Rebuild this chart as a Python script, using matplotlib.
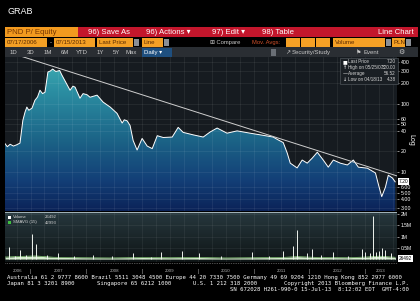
import matplotlib
matplotlib.use("Agg")
import matplotlib.pyplot as plt
import matplotlib.dates as mdates
import matplotlib.transforms as mtrans
from matplotlib.patches import Rectangle
from matplotlib.colors import LinearSegmentedColormap
from matplotlib.ticker import FixedLocator, NullLocator, NullFormatter
import numpy as np
import pandas as pd

plt.rcParams["font.family"] = ["Liberation Sans", "DejaVu Sans"]

W, H = 420, 301

# ── data ────────────────────────────────────────────────────────
price_dates = [
    "2006-07-17", "2006-08-01", "2006-08-20", "2006-09-10", "2006-10-01",
    "2006-10-23", "2006-11-11", "2006-11-25", "2006-12-07", "2006-12-20",
    "2007-01-10", "2007-01-29", "2007-02-15", "2007-03-03", "2007-03-20",
    "2007-04-05", "2007-04-24", "2007-05-10", "2007-05-25", "2007-06-15",
    "2007-07-10", "2007-07-25", "2007-08-14", "2007-09-16", "2007-10-05",
    "2007-10-19", "2007-11-20", "2007-12-10", "2008-01-05", "2008-01-25",
    "2008-03-11", "2008-04-20", "2008-06-05", "2008-07-20", "2008-08-22",
    "2008-09-05", "2008-09-24", "2008-10-13", "2008-11-02", "2008-11-28",
    "2008-12-31", "2009-02-02", "2009-03-07", "2009-04-09", "2009-05-18",
    "2009-07-16", "2009-08-24", "2009-09-26", "2009-11-30", "2010-02-04",
    "2010-03-21", "2010-05-06", "2010-07-10", "2010-09-14", "2010-12-08",
    "2011-02-12", "2011-05-08", "2011-06-10", "2011-07-13", "2011-08-08",
    "2011-08-28", "2011-10-12", "2011-11-14", "2011-12-17", "2012-01-19",
    "2012-02-21", "2012-03-31", "2012-05-03", "2012-06-05", "2012-07-21",
    "2012-09-05", "2012-10-14", "2012-11-16", "2013-01-14", "2013-03-08",
    "2013-03-28", "2013-04-18", "2013-05-12", "2013-05-31", "2013-06-27",
    "2013-07-15",
]
price_values = [
    26.0, 23.5, 25.5, 24.0, 25.0,
    26.5, 57.0, 75.0, 89.0, 80.0,
    86.0, 112.0, 125.0, 157.0, 140.0,
    147.0, 290.0, 300.0, 320.0, 295.0,
    305.0, 260.0, 215.0, 157.0, 180.0,
    174.0, 120.0, 140.0, 135.0, 124.0,
    133.0, 105.0, 89.0, 72.0, 52.0,
    58.0, 56.0, 48.0, 29.0, 21.0,
    31.0, 24.0, 22.0, 34.0, 32.0,
    32.5, 45.0, 38.0, 35.0, 32.5,
    38.5, 44.0, 37.0, 40.0, 37.0,
    35.0, 32.5, 29.5, 27.0, 19.0,
    13.5, 11.5, 15.0, 13.5, 16.0,
    19.5, 15.0, 11.8, 15.0, 13.5,
    12.7, 15.0, 11.8, 11.4, 9.7,
    6.5, 4.38, 6.0, 9.0, 8.2,
    7.20,
]

trend_dates = ["2006-10-08", "2013-08-20"]
trend_values = [511.0, 8.45]

vol_dates = [
    "2006-08-12", "2006-09-20", "2006-10-26", "2006-12-01", "2007-01-12",
    "2007-02-08", "2007-04-20", "2007-07-01", "2007-10-10", "2008-02-12",
    "2008-06-15", "2008-11-02", "2009-03-01", "2009-05-01", "2009-09-20",
    "2010-01-05", "2010-06-01", "2010-12-23", "2011-04-10", "2011-07-13",
    "2011-09-15", "2011-10-12", "2011-12-17", "2012-01-19", "2012-03-15",
    "2012-06-05", "2012-09-10", "2012-12-10", "2012-12-30", "2013-02-01",
    "2013-02-18", "2013-03-10", "2013-03-28", "2013-04-18", "2013-05-12",
    "2013-06-15", "2013-07-15",
]
vol_values = [
    0.53e6, 0.15e6, 0.40e6, 0.20e6, 1.10e6,
    0.66e6, 0.18e6, 0.27e6, 0.12e6, 0.20e6,
    0.12e6, 0.25e6, 0.10e6, 0.30e6, 0.35e6,
    0.25e6, 0.12e6, 0.30e6, 0.15e6, 0.35e6,
    0.60e6, 1.30e6, 0.25e6, 0.45e6, 0.20e6,
    0.30e6, 0.15e6, 0.45e6, 0.30e6, 0.25e6,
    1.90e6, 0.30e6, 0.35e6, 0.50e6, 0.40e6,
    0.25e6, 0.03e6,
]

smavg_dates = [
    "2006-07-17", "2006-11-01", "2007-02-01", "2007-06-01", "2007-12-01",
    "2008-06-01", "2009-01-01", "2009-07-01", "2010-01-01", "2010-07-01",
    "2011-01-01", "2011-07-01", "2011-10-15", "2012-03-01", "2012-09-01",
    "2013-01-01", "2013-04-01", "2013-07-15",
]
smavg_values = [
    0.09e6, 0.12e6, 0.14e6, 0.08e6, 0.06e6,
    0.05e6, 0.07e6, 0.06e6, 0.07e6, 0.05e6,
    0.06e6, 0.07e6, 0.11e6, 0.07e6, 0.06e6,
    0.09e6, 0.13e6, 0.08e6,
]

price_ticks = [3, 4, 5, 6, 10, 20, 40, 50, 60, 100, 200, 300, 400]
price_tick_labels = ["3.00", "4.00", "5.00", "6.00", "10", "20", "40",
                     "50", "60", "100", "200", "300", "400"]
vol_ticks = [0.5e6, 1.0e6, 1.5e6, 2.0e6]
vol_tick_labels = ["0.5M", "1M", "1.5M", "2M"]
years = [2006, 2007, 2008, 2009, 2010, 2011, 2012, 2013]

start = pd.Timestamp("2006-07-17")
end = pd.Timestamp("2013-07-15")

pd_dates = pd.to_datetime(price_dates)
vd_dates = pd.to_datetime(vol_dates)
sm_dates = pd.to_datetime(smavg_dates)


def frac(x0, y0, x1, y1):
    """pixel box -> figure fraction [l, b, w, h]"""
    return [x0 / W, 1 - y1 / H, (x1 - x0) / W, (y1 - y0) / H]


def box(ax, x0, y0, x1, y1, fc, ec="none", lw=0):
    ax.add_patch(Rectangle((x0, y0), x1 - x0, y1 - y0,
                           facecolor=fc, edgecolor=ec, linewidth=lw))


fig = plt.figure(figsize=(W / 100, H / 100), dpi=100, facecolor="black")

# ── background overlay (header / footer) ────────────────────────
bg = fig.add_axes([0, 0, 1, 1], zorder=0)
bg.set_xlim(0, W)
bg.set_ylim(H, 0)
bg.axis("off")

bg.text(8, 11, "GRAB", color="white", fontsize=6.5, va="center")

# row 1
box(bg, 5, 27, 78, 37, "#f29a1f")
bg.text(7, 32.3, "PND P/ Equity", color="#7a3800", fontsize=5.6, va="center")
box(bg, 78, 27, 418, 37, "#c3162c")
for x, s in [(88, "96) Save As"), (146, "96) Actions \u25be"),
             (212, "97) Edit \u25be"), (262, "98) Table")]:
    bg.text(x, 32.3, s, color="white", fontsize=5.6, va="center")
bg.text(414, 32.3, "Line Chart", color="white", fontsize=5.6,
        va="center", ha="right")

# row 2
orange = "#f4a025"
for x0, x1, s in [(5, 47, "07/17/2006"), (54, 95, "07/15/2013"),
                  (97, 133, "Last Price"), (142, 163, "Line"),
                  (333, 385, "Volume"), (392, 405, "PLN")]:
    box(bg, x0, 38, x1, 46.5, orange)
    bg.text(x0 + 2, 42.3, s, color="#5a2a00", fontsize=4.4, va="center")
for x0, x1 in [(286, 300), (301, 315), (316, 330)]:
    box(bg, x0, 38, x1, 46.5, orange)
for x0 in [134, 164, 386, 406]:
    box(bg, x0, 38.5, x0 + 5, 46, "#8a8f96")
bg.text(50, 42.3, "-", color="white", fontsize=4.4, va="center")
bg.text(210, 42.3, "\u229e Compare", color="#c8c8c8", fontsize=4.2, va="center")
bg.text(252, 42.3, "Mov. Avgs:", color="#d0502a", fontsize=4.2, va="center")

# row 3
box(bg, 5, 47, 418, 57, "#2a2e33")
for x, s in [(10, "1D"), (27, "3D"), (44, "1M"), (61, "6M"), (76, "YTD"),
             (97, "1Y"), (113, "5Y"), (126, "Max")]:
    bg.text(x, 52.2, s, color="#c8c8c8", fontsize=4.3, va="center")
box(bg, 142, 47.5, 172, 56.5, "#1e4f7f")
bg.text(144, 52.2, "Daily \u25be", color="white", fontsize=4.3, va="center")
box(bg, 271, 48.5, 276, 55.5, "#6a6f76")
bg.text(285, 52.2, "\u2197", color="#c8c8c8", fontsize=4.3, va="center",
        family=["DejaVu Sans"])
bg.text(292, 52.2, "Security/Study", color="#c8c8c8", fontsize=4.3,
        va="center")
bg.text(356, 52.2, "\u2691", color="#c8c8c8", fontsize=4.3, va="center",
        family=["DejaVu Sans"])
bg.text(363, 52.2, "Event", color="#c8c8c8", fontsize=4.3, va="center")
bg.text(398, 52.2, "\u2699", color="#c8c8c8", fontsize=5, va="center",
        family=["DejaVu Sans"])

# footer
mono = ["DejaVu Sans Mono"]
fkw = dict(color="white", fontsize=4.1, va="baseline", family=mono)
bg.text(7, 279, "Australia 61 2 9777 8600 Brazil 5511 3048 4500 Europe 44 20 "
        "7330 7500 Germany 49 69 9204 1210 Hong Kong 852 2977 6000", **fkw)
bg.text(7, 285, "Japan 81 3 3201 8900", **fkw)
bg.text(97, 285, "Singapore 65 6212 1000", **fkw)
bg.text(193, 285, "U.S. 1 212 318 2000", **fkw)
bg.text(409, 285, "Copyright 2013 Bloomberg Finance L.P.", ha="right", **fkw)
bg.text(409, 291, "SN 672028 H261-990-0 15-Jul-13  8:12:02 EDT  GMT-4:00",
        ha="right", **fkw)
bg.plot([5, 397], [263, 263], color="#9a9a9a", lw=0.5, ls=(0, (1, 1.5)))

# ── price panel ─────────────────────────────────────────────────
ax = fig.add_axes(frac(5, 57, 397, 211), zorder=1)
ax.set_facecolor("#161b20")
ax.set_yscale("log")
ax.set_autoscale_on(False)
ax.set_xlim(start, pd.Timestamp("2013-07-27"))
ax.set_ylim(2.7, 480)

fill_cmap = LinearSegmentedColormap.from_list(
    "bbg", [(0, "#3fb0b4"), (0.22, "#2b8ea2"), (0.55, "#1b6286"),
            (0.8, "#133f77"), (1, "#0b2358")])
grad = np.linspace(0, 1, 256).reshape(-1, 1)
im = ax.imshow(grad, cmap=fill_cmap, aspect="auto", extent=[0, 1, 0, 1],
               transform=ax.transAxes, origin="upper", zorder=1)
poly = ax.fill_between(pd_dates, price_values, 1e-3, facecolor="none",
                       edgecolor="none")
im.set_clip_path(poly.get_paths()[0], ax.transData)

ax.plot(pd_dates, price_values, color="white", lw=0.7, zorder=4)
ax.plot(pd.to_datetime(trend_dates), trend_values, color="#cfcfcf", lw=0.7,
        zorder=5)

ax.yaxis.tick_right()
ax.yaxis.set_major_locator(FixedLocator(price_ticks))
ax.set_yticklabels(price_tick_labels)
ax.yaxis.set_minor_locator(NullLocator())
ax.yaxis.set_minor_formatter(NullFormatter())
ax.tick_params(axis="y", colors="white", labelsize=3.8, length=1.5,
               width=0.4, pad=1)
ax.xaxis.set_major_locator(mdates.MonthLocator(bymonth=[1, 4, 7, 10]))
ax.xaxis.set_major_formatter(NullFormatter())
ax.tick_params(axis="x", length=0)
ax.grid(True, color="white", alpha=0.09, lw=0.5)
for sp in ax.spines.values():
    sp.set_visible(False)

blend = mtrans.blended_transform_factory(ax.transAxes, ax.transData)
ax.text(1.004, 7.2, "7.20", transform=blend, fontsize=3.6, color="black",
        va="center", ha="left", zorder=6,
        bbox=dict(facecolor="white", edgecolor="none", pad=0.6))
ax.text(1.035, 30, "Log", transform=blend, fontsize=5, color="white",
        rotation=270, va="center", ha="center")

# ── volume panel ────────────────────────────────────────────────
av = fig.add_axes(frac(5, 212, 397, 262), zorder=1, sharex=ax)
vol_cmap = LinearSegmentedColormap.from_list("vol", ["#27383e", "#0e1415"])
av.set_autoscale_on(False)
av.imshow(grad, cmap=vol_cmap, aspect="auto", extent=[0, 1, 0, 1],
          transform=av.transAxes, origin="upper", zorder=0)
av.set_ylim(-0.13e6, 2.09e6)
av.fill_between(sm_dates, 0, smavg_values, color="#d4ebcc", lw=0, zorder=2)
av.plot(sm_dates, smavg_values, color="#8fd07e", lw=0.5, zorder=3)
av.vlines(vd_dates, 0, vol_values, color="#eef3ee", lw=0.7, zorder=3)

av.yaxis.tick_right()
av.yaxis.set_major_locator(FixedLocator(vol_ticks))
av.set_yticklabels(vol_tick_labels)
av.tick_params(axis="y", colors="white", labelsize=3.6, length=1.5,
               width=0.4, pad=1)
av.tick_params(axis="x", length=0, labelbottom=False)
av.grid(True, color="white", alpha=0.08, lw=0.5)
for sp in av.spines.values():
    sp.set_visible(False)
av.axhline(2.09e6, color="#9fb0b6", lw=0.8, zorder=4)

vblend = mtrans.blended_transform_factory(av.transAxes, av.transData)
av.text(1.004, 26492, "26492", transform=vblend, fontsize=3.4, color="black",
        va="center", ha="left",
        bbox=dict(facecolor="white", edgecolor="none", pad=0.6))

# year labels under the volume panel
xblend = mtrans.blended_transform_factory(av.transData, av.transAxes)
for yr in years:
    a = max(pd.Timestamp(f"{yr}-01-01"), start)
    b = min(pd.Timestamp(f"{yr}-12-31"), end)
    av.text(a + (b - a) / 2, -0.18, str(yr), transform=xblend, fontsize=3.2,
            color="#b0b0b0", ha="center", va="center", clip_on=False)
    if yr > 2006:
        av.text(pd.Timestamp(f"{yr}-01-01"), -0.18, "|", transform=xblend,
                fontsize=3.6, color="#b0b0b0", ha="center", va="center",
                clip_on=False)

# ── legends (foreground overlay) ────────────────────────────────
fg = fig.add_axes([0, 0, 1, 1], zorder=10)
fg.patch.set_alpha(0)
fg.set_xlim(0, W)
fg.set_ylim(H, 0)
fg.axis("off")

box(fg, 340, 57.5, 398, 84, "#1a1f24", ec="#5a6066", lw=0.4)
lkw = dict(color="#d4d4d4", fontsize=3.3, va="center")
rows = [("\u25a0", "Last Price", "7.20"),
        ("\u2191", "High on 05/25/07", "320.00"),
        ("\u2014", "Average", "56.52"),
        ("\u2193", "Low on 04/18/13", "4.38")]
for i, (mk, lab, val) in enumerate(rows):
    yy = 61.5 + i * 6
    fg.text(343, yy, mk, color="white", fontsize=3.6, va="center",
            family=["DejaVu Sans"])
    fg.text(348, yy, lab, **lkw)
    fg.text(396, yy, val, ha="right", **lkw)

box(fg, 8, 216, 11, 219, "white")
box(fg, 8, 221, 11, 224, "#3fbf3f")
fg.text(13, 217.5, "Volume", color="#d4d4d4", fontsize=3.1, va="center")
fg.text(45, 217.5, "26492", color="#d4d4d4", fontsize=3.1, va="center")
fg.text(13, 222.5, "SMAVG (15)", color="#d4d4d4", fontsize=3.1, va="center")
fg.text(45, 222.5, "42993", color="#d4d4d4", fontsize=3.1, va="center")

fig.savefig("out.png", dpi=100, facecolor="black")
